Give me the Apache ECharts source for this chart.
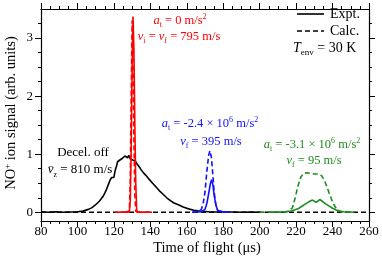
<!DOCTYPE html>
<html><head><meta charset="utf-8">
<script src="https://cdn.jsdelivr.net/npm/echarts@6/dist/echarts.min.js"></script>
<style>html,body{margin:0;padding:0;background:#fff}#c{width:382px;height:260px}</style>
</head><body><div id="c"></div>
<script>
// ---- data (time in µs, signal in arb. units) ----
const blackExpt = [[80,0.01],[84,0.0],[88,0.01],[92,0.0],[96,0.005],[100,0.01],[103,0.02],[106,0.05],[108,0.08],[110,0.13],[112,0.19],[114,0.27],[115,0.33],[116,0.4],[117,0.48],[118,0.56],[118.8,0.6],[119.5,0.57],[120,0.6],[120.7,0.72],[121.5,0.8],[122,0.87],[122.7,0.85],[123.3,0.9],[124,0.88],[124.7,0.93],[125.3,0.92],[126,0.97],[126.5,0.95],[127,1.0],[127.6,0.94],[128.2,0.98],[128.8,0.93],[129.5,0.95],[130.2,0.9],[131,0.88],[131.7,0.89],[132.5,0.84],[133.3,0.85],[134,0.78],[135,0.73],[135.7,0.74],[136.5,0.67],[137.3,0.65],[138,0.62],[139,0.58],[140,0.55],[141,0.51],[142,0.49],[143,0.44],[144,0.42],[145,0.37],[146,0.35],[147,0.31],[148,0.29],[149,0.25],[150,0.23],[151,0.2],[152,0.19],[153,0.16],[154,0.15],[156,0.12],[158,0.09],[160,0.07],[162,0.05],[164,0.035],[166,0.025],[168,0.018],[172,0.01],[176,0.005],[180,0.006],[185,0.004],[190,0.0],[195,0.005],[200,0.0]];
const blackCalc = [[80,0],[260,0]];
const redExpt = [[120.5,0],[124,0.005],[127,0],[128.5,0.01],[129,0.2],[129.5,1.1],[130,2.5],[130.5,3.37],[131,2.8],[131.5,1.5],[132,0.5],[132.5,0.05],[133,0],[136,0.005],[141,0]];
const redCalc = [[126,0],[128.5,0.02],[129,0.6],[129.5,2.0],[130,3.3],[130.5,2.5],[131,1.2],[131.5,0.3],[132,0.02],[133,0]];
const blueExpt = [[163,0],[168,0.01],[170,0.05],[171,0.15],[172,0.32],[173,0.5],[173.6,0.56],[174.3,0.48],[175,0.3],[176,0.12],[177,0.03],[178,0.01],[181,0],[184,0]];
const blueCalc = [[163,0],[166,0.01],[168,0.05],[169,0.15],[170,0.35],[171,0.7],[172,0.98],[172.7,1.06],[173.5,0.95],[174.3,0.65],[175,0.35],[176,0.12],[177,0.03],[178,0.01],[180,0.005],[183,0]];
const greenExpt = [[205,0],[210,0.005],[214,0.01],[217,0.02],[219,0.04],[221,0.06],[223,0.1],[225,0.14],[227,0.18],[229,0.21],[230,0.2],[231,0.17],[232,0.2],[233,0.22],[234,0.2],[236,0.15],[238,0.11],[240,0.07],[242,0.04],[244,0.02],[246,0.01],[249,0.005],[252,0]];
const greenCalc = [[200,0],[205,0.005],[210,0],[214,0.005],[216,0.02],[218,0.08],[219.5,0.25],[221,0.45],[222.5,0.6],[224,0.67],[226,0.68],[228,0.67],[230,0.66],[232,0.66],[234,0.63],[235.5,0.55],[237,0.43],[238.5,0.3],[240,0.18],[241.5,0.09],[243,0.03],[245,0.005],[248,0],[250,0]];
const yMajor = [0,1,2,3];
const yMinor = [0.25,0.5,0.75,1.25,1.5,1.75,2.25,2.5,2.75,3.25];

const F = "'Liberation Serif','Times New Roman',serif";
const RED = '#ff0000', BLUE = '#1010ff', GREEN = '#1e8c1e';
const chart = echarts.init(document.getElementById('c'), null, {renderer:'canvas'});
const tickStyle = {color:'#000', width:1};
function xAx(pos, showLabel){
  return {type:'value', position:pos, min:80, max:260, interval:20,
    axisLine:{show:true, onZero:false, lineStyle:{color:'#000', width:1.2}},
    axisTick:{show:true, inside:false, length:6, lineStyle:tickStyle},
    minorTick:{show:true, splitNumber:4, length:3, lineStyle:tickStyle},
    splitLine:{show:false}, minorSplitLine:{show:false},
    axisLabel:{show:showLabel, margin:4, color:'#000', fontFamily:F, fontSize:13}};
}
function yAx(pos, vals, len, showLabel, line){
  return {type:'value', position:pos, min:-0.15, max:3.5,
    axisLine:{show:line, onZero:false, lineStyle:{color:'#000', width:1.2}},
    axisTick:{show:true, inside:false, length:len, customValues:vals, lineStyle:tickStyle},
    splitLine:{show:false},
    axisLabel:{show:showLabel, customValues:vals, margin:8, color:'#000', fontFamily:F, fontSize:13}};
}
function ser(data, color, dashed, z){
  return {type:'line', data, xAxisIndex:0, yAxisIndex:0, symbol:'none', smooth:false, z:z,
    lineStyle:{color, width:1.6, type: dashed ? [5,3] : 'solid'}, animation:false};
}
function rich(color, fs){
  const sf = Math.round(fs*0.65);
  return {
    n:{fontFamily:F, fontSize:fs, lineHeight:fs+4, color},
    i:{fontFamily:F, fontSize:fs, fontStyle:'italic', lineHeight:fs+4, color},
    sub:{fontFamily:F, fontSize:sf, lineHeight:sf, verticalAlign:'bottom', color},
    sup:{fontFamily:F, fontSize:sf, lineHeight:sf, verticalAlign:'top', color}
  };
}
function txt(x, y, text, color, fs, align){
  return {type:'text', x, y, z:100, style:{text, fill:color, align:align||'center', verticalAlign:'middle', rich:rich(color, fs||12.5), font:(fs||12.5)+'px '+F}};
}
chart.setOption({
  animation:false,
  grid:{left:41, right:13, top:9, bottom:39, containLabel:false},
  xAxis:[xAx('bottom', true), xAx('top', false)],
  yAxis:[yAx('left', yMajor, 6, true, true), yAx('left', yMinor, 3, false, false),
         yAx('right', yMajor, 6, false, true), yAx('right', yMinor, 3, false, false)],
  series:[
    ser(blackCalc, '#000', true, 2),
    ser(blackExpt, '#000', false, 3),
    ser(greenCalc, GREEN, true, 4), ser(greenExpt, GREEN, false, 4),
    ser(blueCalc, BLUE, true, 4), ser(blueExpt, BLUE, false, 4),
    ser(redCalc, RED, true, 5), ser(redExpt, RED, false, 5)
  ],
  graphic:[
    {type:'text', x:11, y:113, rotation:Math.PI/2, z:100,
     style:{text:'{t|NO}{s|+}{t| ion signal (arb. units)}', fill:'#000', align:'center', verticalAlign:'middle',
       rich:{t:{fontFamily:F, fontSize:14.5, lineHeight:16, color:'#000'}, s:{fontFamily:F, fontSize:9, lineHeight:9, verticalAlign:'top', color:'#000'}}}},
    {type:'text', x:207, y:248, z:100,
     style:{text:'Time of flight (μs)', fill:'#000', align:'center', verticalAlign:'middle', font:'14.5px '+F}},
    txt(180, 21, '{i|a}{sub|t}{n| = 0 m/s}{sup|2}', RED),
    txt(179, 37, '{i|v}{sub|i}{n| = }{i|v}{sub|f}{n| = 795 m/s}', RED),
    txt(210, 124, '{i|a}{sub|t}{n| = -2.4 × 10}{sup|6}{n| m/s}{sup|2}', BLUE),
    txt(211, 142, '{i|v}{sub|f}{n| = 395 m/s}', BLUE),
    txt(312, 145, '{i|a}{sub|t}{n| = -3.1 × 10}{sup|6}{n| m/s}{sup|2}', GREEN),
    txt(314, 161, '{i|v}{sub|f}{n| = 95 m/s}', GREEN),
    txt(83, 153, '{n|Decel. off}', '#000', 13),
    txt(80, 170, '{i|v̄}{sub|z}{n| = 810 m/s}', '#000', 13),
    {type:'line', z:100, shape:{x1:297, y1:14, x2:324, y2:14}, style:{stroke:'#000', lineWidth:1.6}},
    {type:'line', z:100, shape:{x1:297, y1:31, x2:324, y2:31}, style:{stroke:'#000', lineWidth:1.6, lineDash:[5,3]}},
    txt(330, 14, '{n|Expt.}', '#000', 14, 'left'),
    txt(330, 31, '{n|Calc.}', '#000', 14, 'left'),
    txt(293, 48, '{i|T}{sub|env}{n| = 30 K}', '#000', 14, 'left')
  ]
});
</script></body></html>
